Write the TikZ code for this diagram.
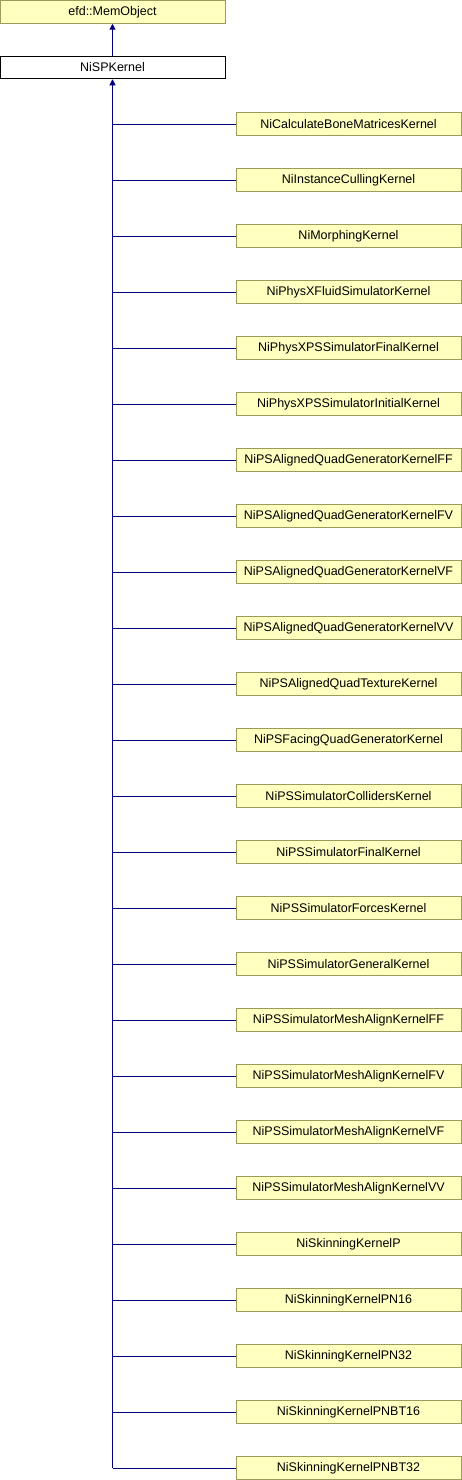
\documentclass[tikz,border=0pt]{standalone}
\usepackage{fontspec}
\setmainfont{Liberation Sans}
\usetikzlibrary{arrows.meta}
\definecolor{boxfill}{HTML}{FFFFC0}
\definecolor{boxline}{HTML}{9C9C5A}
\definecolor{edgeblue}{HTML}{000080}
\begin{document}
\begin{tikzpicture}[x=1pt,y=-1pt,
  classbox/.style={draw=boxline,fill=boxfill,line width=1pt,minimum width=225pt,minimum height=22.5pt,inner sep=0pt,font=\fontsize{12.5}{14}\selectfont},
  mainbox/.style={draw=black,fill=white,line width=1pt,minimum width=225pt,minimum height=22.5pt,inner sep=0pt,font=\fontsize{12.5}{14}\selectfont},
  inherit/.style={draw=edgeblue,line width=1pt},
  tip/.style={-{Triangle[length=6pt,width=6pt]}}]
\useasboundingbox (0,0) rectangle (462,1480);
\node[classbox] (mem) at (112.5,12) {efd::MemObject};
\node[mainbox] (sp) at (112.5,67.5) {NiSPKernel};
\draw[inherit,tip] (sp.north) -- (mem.south);
\foreach \name [count=\i from 0] in {NiCalculateBoneMatricesKernel,NiInstanceCullingKernel,NiMorphingKernel,NiPhysXFluidSimulatorKernel,NiPhysXPSSimulatorFinalKernel,NiPhysXPSSimulatorInitialKernel,NiPSAlignedQuadGeneratorKernelFF,NiPSAlignedQuadGeneratorKernelFV,NiPSAlignedQuadGeneratorKernelVF,NiPSAlignedQuadGeneratorKernelVV,NiPSAlignedQuadTextureKernel,NiPSFacingQuadGeneratorKernel,NiPSSimulatorCollidersKernel,NiPSSimulatorFinalKernel,NiPSSimulatorForcesKernel,NiPSSimulatorGeneralKernel,NiPSSimulatorMeshAlignKernelFF,NiPSSimulatorMeshAlignKernelFV,NiPSSimulatorMeshAlignKernelVF,NiPSSimulatorMeshAlignKernelVV,NiSkinningKernelP,NiSkinningKernelPN16,NiSkinningKernelPN32,NiSkinningKernelPNBT16,NiSkinningKernelPNBT32}{
  \node[classbox] (c\i) at (348.5,{124+56*\i}) {\name};
  \coordinate (j\i) at (112.5,{124+56*\i});
  \draw[inherit] (c\i.west) -- (j\i);
}
\draw[inherit,tip] (j24) -- (sp.south);
\end{tikzpicture}
\end{document}
